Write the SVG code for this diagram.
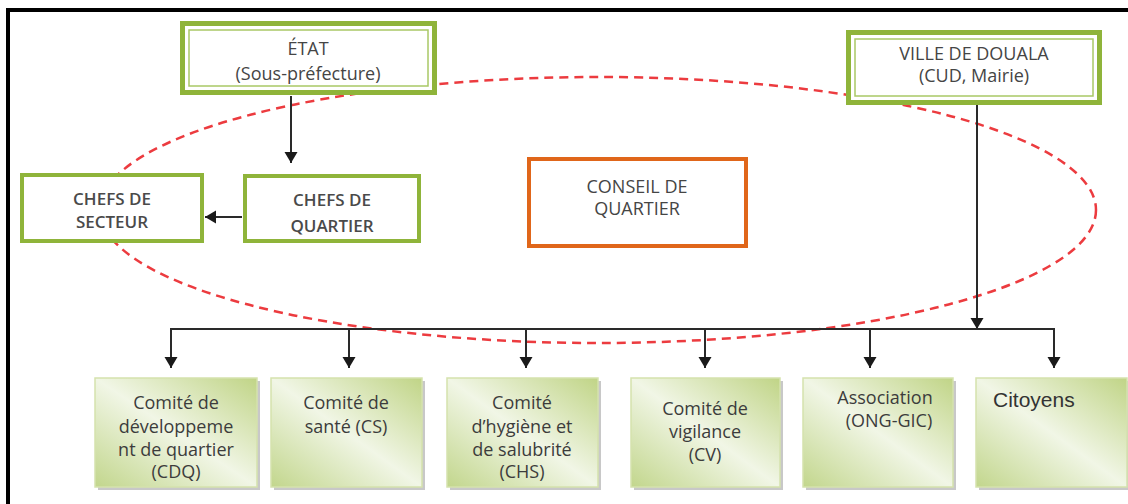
<svg xmlns="http://www.w3.org/2000/svg" width="1128" height="504" viewBox="0 0 1128 504">
<style>
.t{font-family:"Open Sans","Liberation Sans",sans-serif;font-size:18px;fill:#454545;text-anchor:middle}
.tb{font-family:"Open Sans","Liberation Sans",sans-serif;font-size:17px;font-weight:600;fill:#4a4a4a;text-anchor:middle}
.bt{font-family:"Open Sans","Liberation Sans",sans-serif;font-size:18px;fill:#3c3c3c;text-anchor:middle}
.g{fill:#fff;stroke:#8fb43a;stroke-width:5}
.gin{fill:none;stroke:#a9c866;stroke-width:1.5}
.gs{fill:#fff;stroke:#8fb43a;stroke-width:4}
.o{fill:#fff;stroke:#e0661a;stroke-width:4}
.c{fill:url(#grad);stroke:#d5e2ad;stroke-width:1.5}
.sh{fill:#9a9a9a;opacity:0.55}
.ln{fill:none;stroke:#2a2a2a;stroke-width:2}
</style>
<defs>
<linearGradient id="grad" x1="1" y1="0" x2="0" y2="1">
<stop offset="0" stop-color="#c0d486"/>
<stop offset="0.5" stop-color="#f1f6e6"/>
<stop offset="1" stop-color="#c2d68c"/>
</linearGradient>
<marker id="ah" markerUnits="userSpaceOnUse" markerWidth="12" markerHeight="14" refX="11" refY="6.5" orient="auto">
<path d="M0,0 L11,6.5 L0,13 Z" fill="#1a1a1a"/>
</marker>
</defs>
<rect width="1128" height="504" fill="#fff"/>
<path d="M8,504 V10 H1128" fill="none" stroke="#000" stroke-width="4"/>
<ellipse cx="598" cy="210" rx="498" ry="133" fill="none" stroke="#ec3b3f" stroke-width="2.5" stroke-dasharray="9 6"/>
<g id="connectors">
<line class="ln" x1="291" y1="96" x2="291" y2="163" marker-end="url(#ah)"/>
<line class="ln" x1="242" y1="217" x2="205" y2="217" marker-end="url(#ah)"/>
<line class="ln" x1="977" y1="105" x2="977" y2="329" stroke="#4a4a4a" stroke-width="2.5" marker-end="url(#ah)"/>
<path class="ln" d="M171,329 H1054"/>
<line class="ln" x1="171" y1="328" x2="171" y2="368" marker-end="url(#ah)"/>
<line class="ln" x1="349" y1="328" x2="349" y2="368" marker-end="url(#ah)"/>
<line class="ln" x1="526" y1="328" x2="526" y2="368" marker-end="url(#ah)"/>
<line class="ln" x1="705" y1="328" x2="705" y2="368" marker-end="url(#ah)"/>
<line class="ln" x1="870" y1="328" x2="870" y2="368" marker-end="url(#ah)"/>
<line class="ln" x1="1054" y1="328" x2="1054" y2="368" marker-end="url(#ah)"/>
</g>
<g id="etat">
<rect class="g" x="182.5" y="23.5" width="252" height="69"/>
<rect class="gin" x="189" y="30" width="239" height="56"/>
<text class="t" x="308" y="55">ÉTAT</text>
<text class="t" x="308" y="80">(Sous-préfecture)</text>
</g>
<g id="ville">
<rect class="g" x="848.5" y="32.5" width="251" height="70"/>
<rect class="gin" x="855" y="39" width="238" height="57"/>
<text class="t" x="974" y="60">VILLE DE DOUALA</text>
<text class="t" x="974" y="82">(CUD, Mairie)</text>
</g>
<g id="chefs-secteur">
<rect class="gs" x="22" y="175" width="180" height="66"/>
<text class="tb" x="112" y="205">CHEFS DE</text>
<text class="tb" x="112" y="228">SECTEUR</text>
</g>
<g id="chefs-quartier">
<rect class="gs" x="245" y="176" width="174" height="65"/>
<text class="tb" x="332" y="206">CHEFS DE</text>
<text class="tb" x="332" y="232">QUARTIER</text>
</g>
<g id="conseil">
<rect class="o" x="529" y="159" width="217" height="87"/>
<text class="t" x="637" y="193">CONSEIL DE</text>
<text class="t" x="637" y="215">QUARTIER</text>
</g>
<g id="cdq">
<rect class="sh" x="98" y="381" width="162" height="109"/>
<rect class="c" x="95" y="378" width="162" height="109"/>
<text class="bt" x="176" y="409">Comité de</text>
<text class="bt" x="176" y="433">développeme</text>
<text class="bt" x="176" y="456">nt de quartier</text>
<text class="bt" x="176" y="478">(CDQ)</text>
</g>
<g id="cs">
<rect class="sh" x="274" y="381" width="151" height="109"/>
<rect class="c" x="271" y="378" width="151" height="109"/>
<text class="bt" x="346" y="409">Comité de</text>
<text class="bt" x="346" y="433">santé (CS)</text>
</g>
<g id="chs">
<rect class="sh" x="450" y="381" width="151" height="109"/>
<rect class="c" x="447" y="378" width="151" height="109"/>
<text class="bt" x="522" y="409">Comité</text>
<text class="bt" x="522" y="433">d’hygiène et</text>
<text class="bt" x="522" y="456">de salubrité</text>
<text class="bt" x="522" y="478">(CHS)</text>
</g>
<g id="cv">
<rect class="sh" x="634" y="381" width="149" height="109"/>
<rect class="c" x="631" y="378" width="149" height="109"/>
<text class="bt" x="705" y="415">Comité de</text>
<text class="bt" x="705" y="438">vigilance</text>
<text class="bt" x="705" y="461">(CV)</text>
</g>
<g id="association">
<rect class="sh" x="806" y="381" width="150" height="109"/>
<rect class="c" x="803" y="378" width="150" height="109"/>
<text class="bt" x="885" y="404">Association</text>
<text class="bt" x="889" y="427">(ONG-GIC)</text>
</g>
<g id="citoyens">
<rect class="sh" x="979" y="381" width="149" height="109"/>
<rect class="c" x="976" y="378" width="151" height="109"/>
<text x="993" y="407" font-family="'Liberation Sans',Arial,sans-serif" font-size="21" fill="#333">Citoyens</text>
</g>
</svg>
